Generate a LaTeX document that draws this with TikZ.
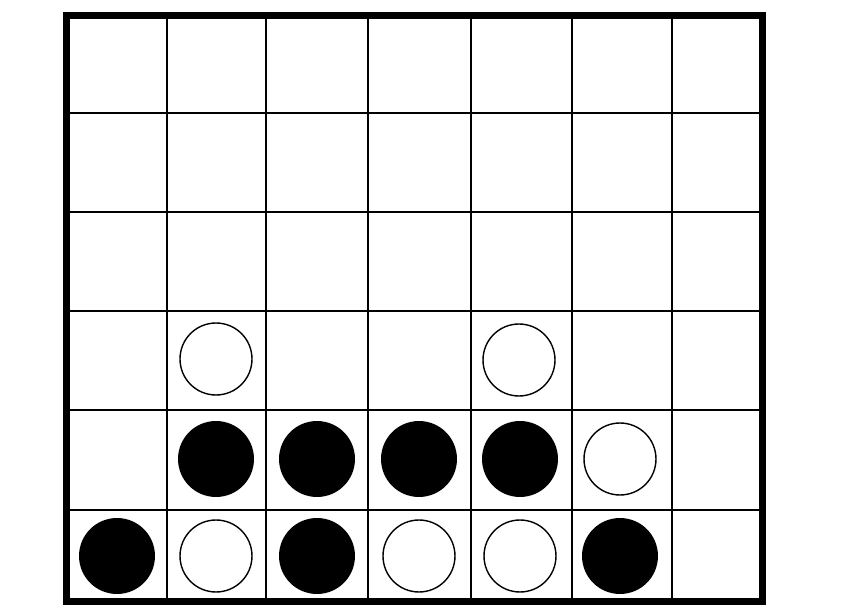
\documentclass[tikz,border=0pt]{standalone}
\begin{document}
\begin{tikzpicture}[
    x=0.02cm, y=-0.02cm,
    frame/.style={line width=4pt},
    gridline/.style={line width=1.1pt},
    blackdisc/.style={circle, fill=black, inner sep=0pt, minimum size=1.52cm},
    whitedisc/.style={circle, draw=black, fill=white, line width=0.8pt, inner sep=0pt, minimum size=1.44cm}
]
    \useasboundingbox (0,0) rectangle (850,615);

    % grid (7 columns, 6 rows)
    \foreach \x/\w in {167/1.1, 266/1.6, 368/1.1, 471/1.1, 572/1.6, 672/1.1}
        \draw[line width=\w pt] (\x,15.5) -- (\x,601.5);
    \foreach \y in {113, 212, 311, 410, 510}
        \draw[gridline] (66.5,\y) -- (762.5,\y);
    \draw[frame] (66.5,15.5) rectangle (762.5,601.5);

    % bottom row
    \node[blackdisc] (b16) at (117,556) {};
    \node[whitedisc] (w26) at (216,556) {};
    \node[blackdisc] (b36) at (317,556) {};
    \node[whitedisc] (w46) at (419,556) {};
    \node[whitedisc] (w56) at (520,556) {};
    \node[blackdisc] (b66) at (620,556) {};

    % second row
    \node[blackdisc] (b25) at (216,459) {};
    \node[blackdisc] (b35) at (317,459) {};
    \node[blackdisc] (b45) at (419,459) {};
    \node[blackdisc] (b55) at (520,459) {};
    \node[whitedisc] (w65) at (620,459) {};

    % third row
    \node[whitedisc] (w24) at (216,359) {};
    \node[whitedisc] (w54) at (519,360) {};
\end{tikzpicture}
\end{document}
